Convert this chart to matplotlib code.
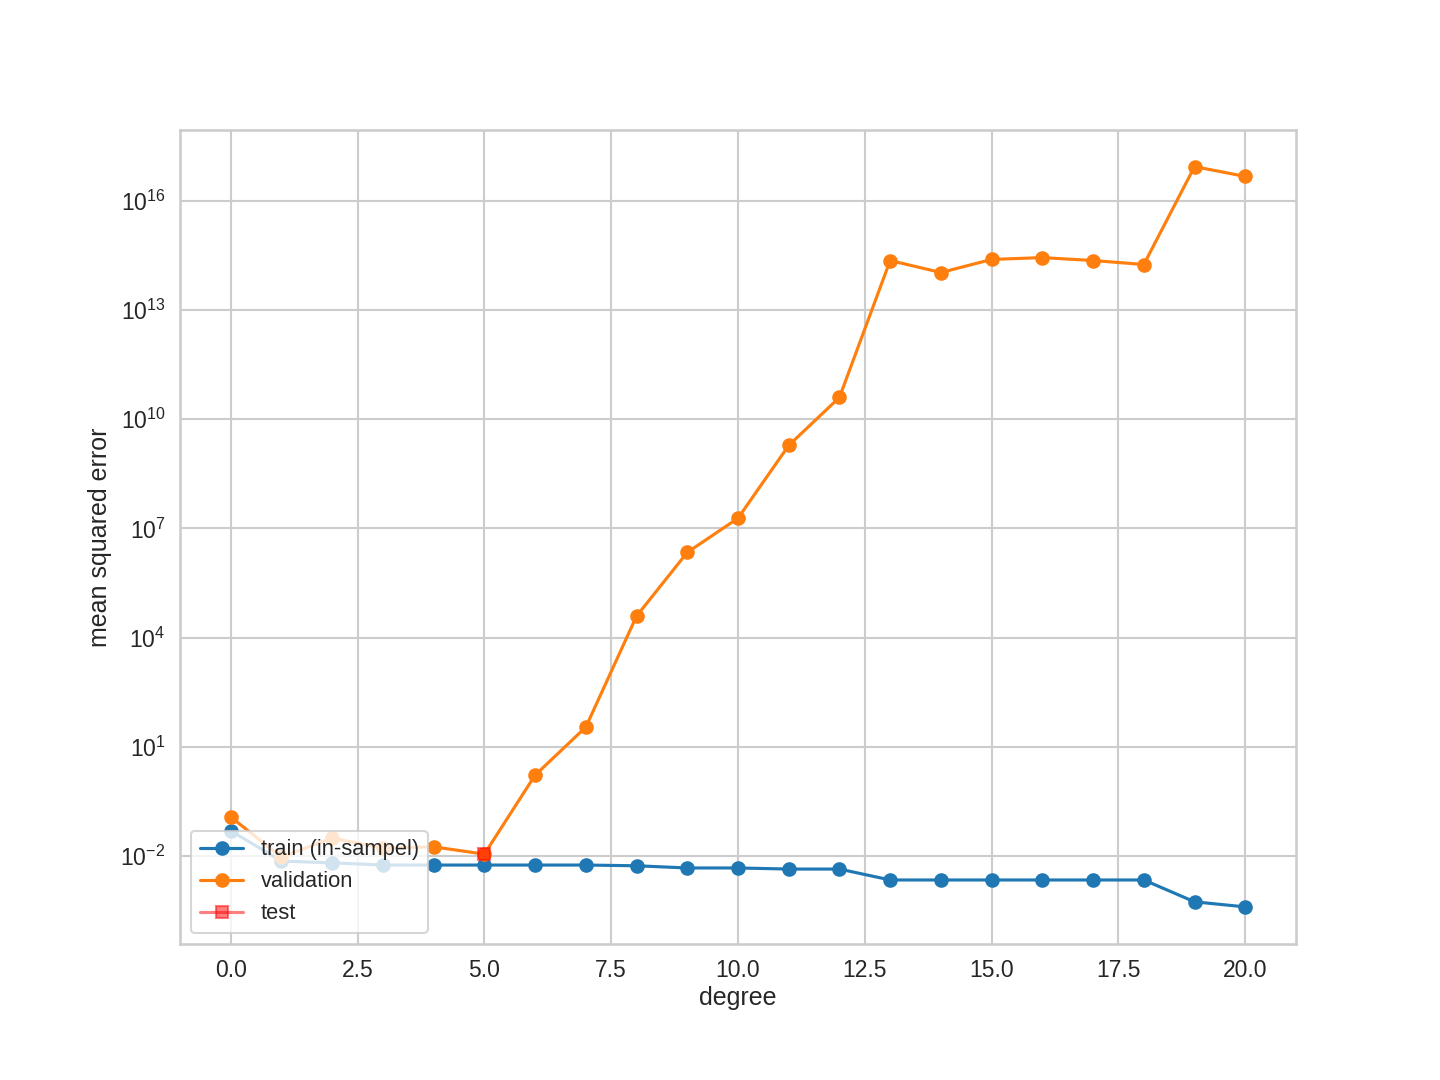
import numpy as np
import matplotlib
matplotlib.use('Agg')
import matplotlib.pyplot as plt
import seaborn as sns

'''data read off the chart (log10 of mean squared error)'''
degree = np.arange(0, 21)
train_log = [-1.31, -2.14, -2.19, -2.25, -2.25, -2.25, -2.25, -2.25, -2.27, -2.33, -2.33,
             -2.36, -2.36, -2.66, -2.66, -2.66, -2.66, -2.66, -2.66, -3.26, -3.40]
val_log = [-0.93, -2.03, -1.51, -1.78, -1.75, -1.95, 0.22, 1.54, 4.59, 6.34, 7.28,
           9.28, 10.60, 14.36, 14.03, 14.39, 14.44, 14.36, 14.25, 16.94, 16.67]
test_degree = [5]
test_log = [-1.95]

train_mse = 10.0 ** np.array(train_log)
val_mse = 10.0 ** np.array(val_log)
test_mse = 10.0 ** np.array(test_log)

'''plotting'''
sns.set_theme(style='whitegrid', palette='tab10')
plt.rcParams['font.family'] = ['Liberation Sans', 'DejaVu Sans']
plt.rcParams['xtick.major.size'] = 3.5
plt.rcParams['ytick.major.size'] = 3.5

fig, ax = plt.subplots(figsize=(9.6, 7.2), dpi=150)
fig.subplots_adjust(bottom=0.126)
ax.plot(degree, train_mse, marker='o', label='train (in-sampel)')
ax.plot(degree, val_mse, marker='o', label='validation')
ax.plot(test_degree, test_mse, marker='s', color='red', alpha=0.5, label='test')
ax.set_yscale('log')
ax.set_xlabel('degree', labelpad=2)
ax.set_ylabel('mean squared error')
ax.legend(loc='lower left', fontsize=10.5)
fig.savefig('out.png')
